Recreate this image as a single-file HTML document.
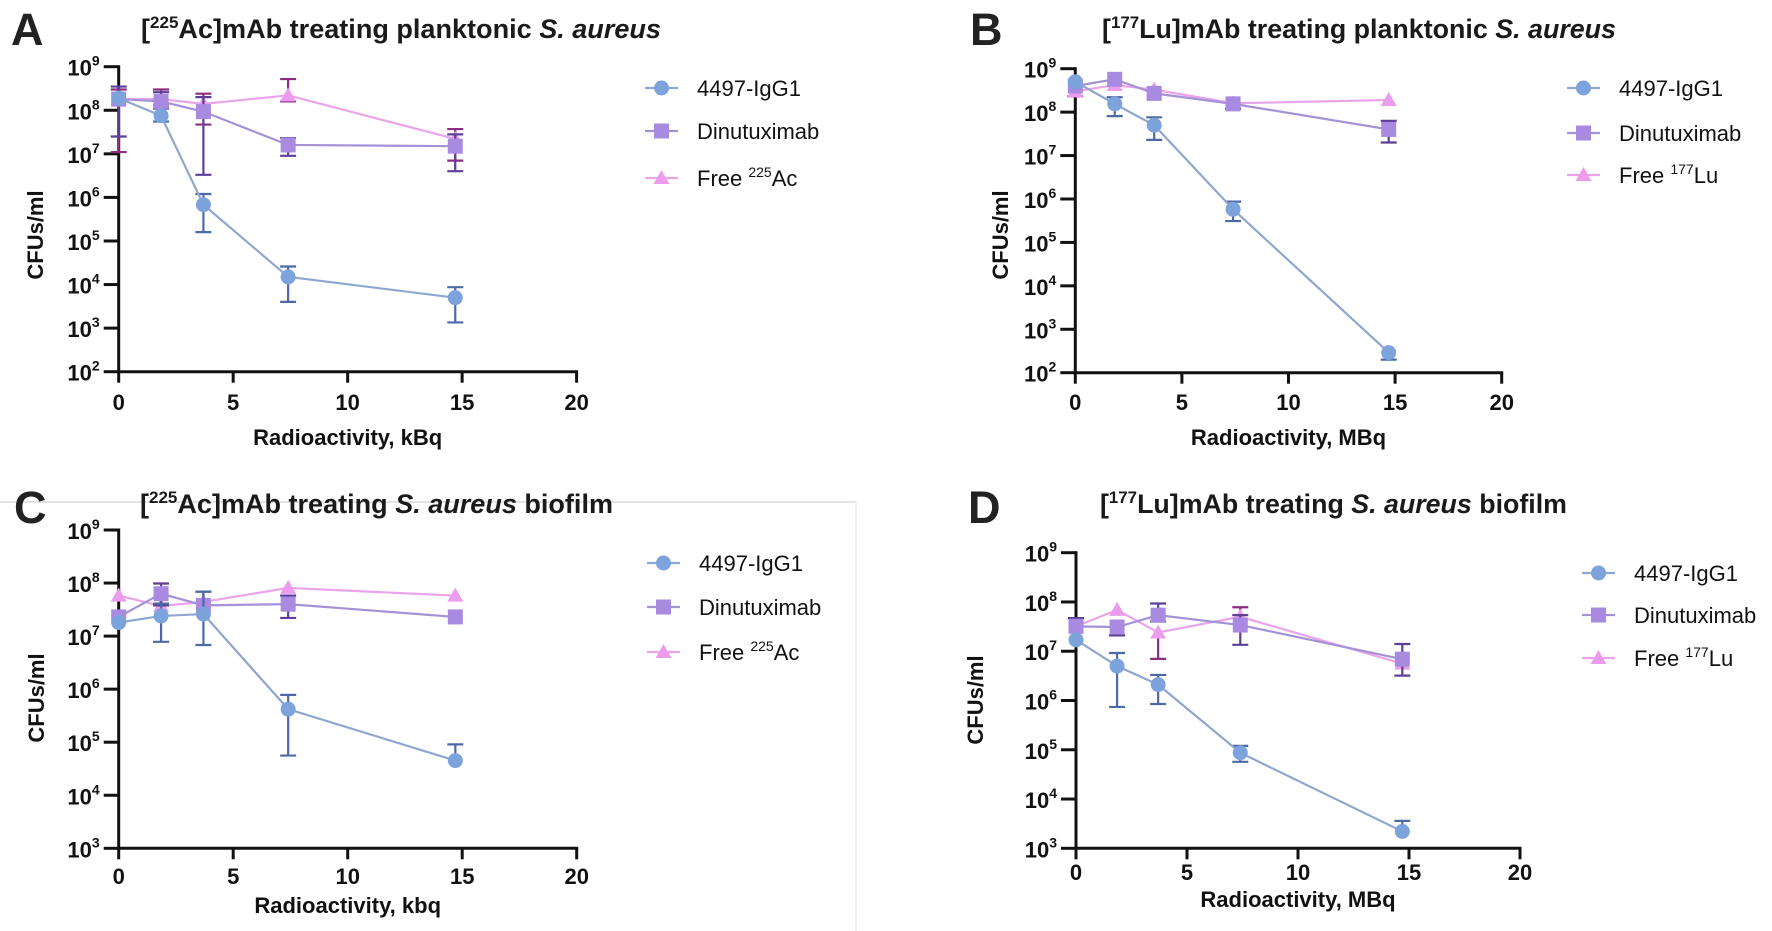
<!DOCTYPE html>
<html><head><meta charset="utf-8"><title>Radiolabelled mAb treating S. aureus</title>
<style>
html,body{margin:0;padding:0;background:#fff;}
svg{display:block;font-family:"Liberation Sans",Arial,sans-serif;}
</style></head>
<body>
<svg id="fig" width="1772" height="931" viewBox="0 0 1772 931" xmlns="http://www.w3.org/2000/svg">
<rect x="0" y="0" width="1772" height="931" fill="#fff"/>
<line x1="0" y1="502" x2="856" y2="502" stroke="#d8d8d8" stroke-width="1.5"/>
<line x1="856" y1="502" x2="856" y2="931" stroke="#ececec" stroke-width="1.5"/>
</svg>
<script>
// ---- shared data ----
const xDose = [0, 1.85, 3.7, 7.4, 14.7];
const xTicks = [0, 5, 10, 15, 20];
const seriesNames = ['4497-IgG1', 'Dinutuximab', 'Free'];

// Panel A: [225Ac] planktonic
const aIgG = [1.9e8, 7.5e7, 6.8e5, 1.5e4, 5.0e3];
const aIgGLo = [null, 5.5e7, 1.6e5, 4.0e3, 1.35e3];
const aIgGHi = [null, null, 1.2e6, 2.6e4, 8.7e3];
const aDinu = [1.8e8, 1.6e8, 9.3e7, 1.6e7, 1.5e7];
const aDinuLo = [2.5e7, 1.1e8, 3.3e6, 9.0e6, 4.0e6];
const aDinuHi = [3.5e8, 2.6e8, 2.0e8, 2.3e7, 2.8e7];
const aFree = [1.8e8, 1.8e8, 1.4e8, 2.2e8, 2.2e7];
const aFreeLo = [1.1e7, 1.3e8, 4.7e7, 1.6e8, 7.0e6];
const aFreeHi = [3.0e8, 3.0e8, 2.4e8, 5.2e8, 3.7e7];
const aTickExp = [2, 3, 4, 5, 6, 7, 8, 9];

// Panel B: [177Lu] planktonic
const bIgG = [5.0e8, 1.55e8, 5.0e7, 5.8e5, 2.9e2];
const bIgGLo = [null, 8.1e7, 2.3e7, 3.1e5, 2.0e2];
const bIgGHi = [null, 2.2e8, 7.6e7, 8.7e5, null];
const bDinu = [4.0e8, 5.7e8, 2.7e8, 1.55e8, 4.0e7];
const bDinuLo = [null, null, null, 1.2e8, 2.0e7];
const bDinuHi = [null, null, null, null, 6.3e7];
const bFree = [3.0e8, 4.2e8, 3.3e8, 1.6e8, 1.9e8];
const bFreeLo = [2.3e8, null, null, null, null];
const bFreeHi = [null, null, null, null, null];
const bTickExp = [2, 3, 4, 5, 6, 7, 8, 9];

// Panel C: [225Ac] biofilm
const cIgG = [1.8e7, 2.4e7, 2.6e7, 4.2e5, 4.5e4];
const cIgGLo = [null, 7.8e6, 6.8e6, 5.6e4, null];
const cIgGHi = [null, 4.1e7, 6.9e7, 7.8e5, 9.1e4];
const cDinu = [2.3e7, 6.3e7, 3.8e7, 4.0e7, 2.3e7];
const cDinuLo = [null, 3.8e7, null, 2.2e7, null];
const cDinuHi = [null, 9.8e7, 6.9e7, 5.8e7, null];
const cFree = [5.8e7, 3.7e7, 4.4e7, 8.1e7, 5.8e7];
const cFreeLo = [null, null, null, null, null];
const cFreeHi = [null, null, null, null, null];
const cTickExp = [3, 4, 5, 6, 7, 8, 9];

// Panel D: [177Lu] biofilm
const dIgG = [1.7e7, 5.0e6, 2.1e6, 8.7e4, 2.2e3];
const dIgGLo = [null, 7.4e5, 8.5e5, 5.7e4, null];
const dIgGHi = [null, 9.2e6, 3.3e6, 1.2e5, 3.6e3];
const dDinu = [3.2e7, 3.1e7, 5.4e7, 3.4e7, 6.9e6];
const dDinuLo = [null, 2.1e7, 4.0e7, 1.35e7, 3.2e6];
const dDinuHi = [4.7e7, null, 9.3e7, 5.4e7, 1.4e7];
const dFree = [3.2e7, 6.9e7, 2.4e7, 5.0e7, 5.6e6];
const dFreeLo = [null, null, 7.0e6, null, null];
const dFreeHi = [null, null, null, 7.8e7, null];
const dTickExp = [3, 4, 5, 6, 7, 8, 9];

const NS = 'http://www.w3.org/2000/svg';
const svg = document.getElementById('fig');
function mk(tag, attrs, parent) {
  const e = document.createElementNS(NS, tag);
  for (const k in attrs) e.setAttribute(k, attrs[k]);
  (parent || svg).appendChild(e);
  return e;
}

const COL = {
  line: ['#8fa6cf', '#a592d6', '#eaa4ea'],
  fill: ['#7da3dc', '#a88ae0', '#ec9cec'],
  err: ['#4d6aa6', '#5e3f98', '#8c2c80']
};

const panels = [
  {key:'a', letter:'A', lx:11, ly:45, titleIso:'225', titleEl:'Ac', titleMid:']mAb treating planktonic ', tx:141, tw:520, tyb:38,
   x0:118.7, x1:576.6, yTop:66.7, yBot:371.7, tickLabY:410, axTitleY:445, axTitle:'Radioactivity, kBq', ylabX:35, ylabY:235,
   legX:645, legY:[88,131,178], iso:'225', el:'Ac',
   data:[[aIgG,aIgGLo,aIgGHi],[aDinu,aDinuLo,aDinuHi],[aFree,aFreeLo,aFreeHi]], exps:aTickExp},
  {key:'b', letter:'B', lx:970, ly:45, titleIso:'177', titleEl:'Lu', titleMid:']mAb treating planktonic ', tx:1102, tw:514, tyb:38,
   x0:1075.3, x1:1501.7, yTop:68.7, yBot:372.7, tickLabY:410, axTitleY:445, axTitle:'Radioactivity, MBq', ylabX:1000, ylabY:235,
   legX:1567, legY:[88,133,175], iso:'177', el:'Lu',
   data:[[bIgG,bIgGLo,bIgGHi],[bDinu,bDinuLo,bDinuHi],[bFree,bFreeLo,bFreeHi]], exps:bTickExp},
  {key:'c', letter:'C', lx:14, ly:523, titleIso:'225', titleEl:'Ac', titleMid:']mAb treating ', tail:' biofilm', tx:140, tw:473, tyb:513,
   x0:118.7, x1:576.7, yTop:530, yBot:848.3, tickLabY:884, axTitleY:913, axTitle:'Radioactivity, kbq', ylabX:36, ylabY:698,
   legX:647, legY:[563,607,652], iso:'225', el:'Ac',
   data:[[cIgG,cIgGLo,cIgGHi],[cDinu,cDinuLo,cDinuHi],[cFree,cFreeLo,cFreeHi]], exps:cTickExp},
  {key:'d', letter:'D', lx:968, ly:523, titleIso:'177', titleEl:'Lu', titleMid:']mAb treating ', tail:' biofilm', tx:1100, tw:467, tyb:513,
   x0:1076, x1:1520, yTop:552.7, yBot:848.3, tickLabY:880, axTitleY:907, axTitle:'Radioactivity, MBq', ylabX:975, ylabY:700,
   legX:1582, legY:[573,615,658], iso:'177', el:'Lu',
   data:[[dIgG,dIgGLo,dIgGHi],[dDinu,dDinuLo,dDinuHi],[dFree,dFreeLo,dFreeHi]], exps:dTickExp}
];

function marker(kind, cx, cy, g) {
  let m;
  if (kind === 0) m = mk('circle', {cx:cx, cy:cy, r:7.5, fill:COL.fill[0]}, g);
  else if (kind === 1) m = mk('rect', {x:cx-7.5, y:cy-7.5, width:15, height:15, fill:COL.fill[1]}, g);
  else m = mk('polygon', {points:(cx)+','+(cy-8)+' '+(cx-8)+','+(cy+6)+' '+(cx+8)+','+(cy+6), fill:COL.fill[2]}, g);
  return m;
}

panels.forEach(p => {
  const g = mk('g', {});
  
  
  const eMin = p.exps[0], eMax = p.exps[p.exps.length - 1];
  const X = v => p.x0 + (v - xTicks[0]) / (xTicks[xTicks.length-1] - xTicks[0]) * (p.x1 - p.x0);
  const Y = v => p.yBot - (Math.log10(v) - eMin) / (eMax - eMin) * (p.yBot - p.yTop);

  const L = mk('text', {x:p.lx, y:p.ly, 'font-size':45, 'font-weight':'bold', fill:'#222'}, g);
  L.textContent = p.letter;
  
  

  const T = mk('text', {x:p.tx, y:p.tyb, 'font-size':27, 'font-weight':'bold', fill:'#1a1a1a', textLength:p.tw, lengthAdjust:'spacingAndGlyphs'}, g);
  
  
  const s1 = mk('tspan', {}, T); s1.textContent = '[';
  const s2 = mk('tspan', {dy:-10, 'font-size':17}, T); s2.textContent = p.titleIso;
  const s3 = mk('tspan', {dy:10}, T); s3.textContent = p.titleEl + p.titleMid;
  const s4 = mk('tspan', {'font-style':'italic'}, T); s4.textContent = 'S. aureus';
  if (p.tail) { const s5 = mk('tspan', {}, T); s5.textContent = p.tail; }

  const ax = mk('path', {d:'M'+p.x0+','+p.yTop+' V'+p.yBot+' H'+p.x1, fill:'none', stroke:'#111', 'stroke-width':3, 'stroke-linecap':'square'}, g);
  
  

  p.exps.forEach(e => {
    const yy = Y(Math.pow(10, e));
    const tk = mk('line', {x1:p.x0-15, x2:p.x0, y1:yy, y2:yy, stroke:'#111', 'stroke-width':3}, g);
    
    
    const lt = mk('text', {x:p.x0-19, y:yy+9, 'text-anchor':'end', 'font-size':22, 'font-weight':'bold', fill:'#111'}, g);
    
    
    const b = mk('tspan', {}, lt); b.textContent = '10';
    const sup = mk('tspan', {dy:-10, 'font-size':14}, lt); sup.textContent = String(e);
  });
  xTicks.forEach(v => {
    const xx = X(v);
    const tk = mk('line', {x1:xx, x2:xx, y1:p.yBot, y2:p.yBot+11, stroke:'#111', 'stroke-width':3}, g);
    
    
    const lt = mk('text', {x:xx, y:p.tickLabY, 'text-anchor':'middle', 'font-size':22, 'font-weight':'bold', fill:'#111'}, g);
    lt.textContent = String(v);
    
    
  });
  const xt = mk('text', {x:(p.x0+p.x1)/2, y:p.axTitleY, 'text-anchor':'middle', 'font-size':22, 'font-weight':'bold', fill:'#111'}, g);
  xt.textContent = p.axTitle;
  
  
  const yt = mk('text', {x:0, y:0, transform:'translate('+(p.ylabX+8)+','+p.ylabY+') rotate(-90)', 'text-anchor':'middle', 'font-size':22, 'font-weight':'bold', fill:'#111'}, g);
  yt.textContent = 'CFUs/ml';
  
  

  [2, 1, 0].forEach(si => {
    const [vals, lo, hi] = p.data[si];
    const sg = mk('g', {}, g);
    
    
    vals.forEach((v, i) => {
      const xx = X(xDose[i]);
      [lo[i], hi[i]].forEach(ev => {
        if (ev == null) return;
        const eb = mk('path', {d:'M'+xx+','+Y(v)+' V'+Y(ev)+' M'+(xx-8)+','+Y(ev)+' H'+(xx+8), stroke:COL.err[si], 'stroke-width':2.2, fill:'none'}, sg);
        
        
      });
    });
    const pts = vals.map((v, i) => X(xDose[i]) + ',' + Y(v)).join(' ');
    const pl = mk('polyline', {points:pts, fill:'none', stroke:COL.line[si], 'stroke-width':2.2}, sg);
    
    
    vals.forEach((v, i) => {
      const m = marker(si, X(xDose[i]), Y(v), sg);
      
      
    });
  });

  const lg = mk('g', {}, g);
  
  
  [0, 1, 2].forEach(si => {
    const yy = p.legY[si];
    const eg = mk('g', {}, lg);
    
    
    mk('line', {x1:p.legX, x2:p.legX+33, y1:yy, y2:yy, stroke:COL.line[si], 'stroke-width':2.2}, eg);
    marker(si, p.legX+16.5, yy, eg);
    const t = mk('text', {x:p.legX+52, y:yy+8, 'font-size':22, fill:'#111'}, eg);
    if (si < 2) t.textContent = seriesNames[si];
    else {
      const a = mk('tspan', {}, t); a.textContent = 'Free ';
      const b = mk('tspan', {dy:-9, 'font-size':14}, t); b.textContent = p.iso;
      const c = mk('tspan', {dy:9}, t); c.textContent = p.el;
    }
  });
});
</script>
</body></html>
